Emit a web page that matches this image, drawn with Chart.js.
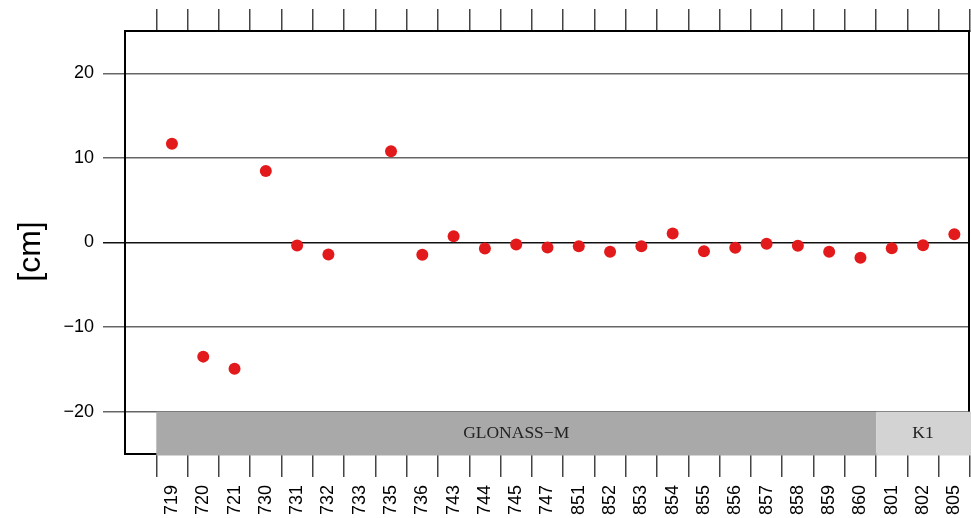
<!DOCTYPE html>
<html><head><meta charset="utf-8">
<script src="https://cdn.jsdelivr.net/npm/chart.js@4"></script>
<style>html,body{margin:0;padding:0;background:#fff}canvas{display:block}</style>
</head><body>
<canvas id="c" width="971" height="518"></canvas>
<script>
const categories = ['719','720','721','730','731','732','733','735','736','743','744','745','747','851','852','853','854','855','856','857','858','859','860','801','802','805'];
const offsets = [11.66,-13.49,-14.91,8.46,-0.36,-1.42,null,10.79,-1.46,0.75,-0.71,-0.24,-0.59,-0.43,-1.10,-0.43,1.07,-1.03,-0.63,-0.16,-0.39,-1.10,-1.81,-0.67,-0.32,0.98];
const yTicks = [-20,-10,0,10,20];
const groupNames = ['GLONASS\u2212M','K1'];
const groupFirst = ['719','801'];
const groupLast = ['860','805'];
const yTitle = '[cm]';
const yMin = -25, yMax = 25, bandTop = -20;

const sansFont = "'Liberation Sans', Arial, Helvetica, sans-serif";
const bandColors = ['#a9a9a9', '#d3d3d3'];

// let the plot area reach the canvas edge (points are far from the edges)
const ScatterCtl = (Chart.controllers && Chart.controllers.scatter) || Chart.registry.getController('scatter');
if (ScatterCtl) ScatterCtl.prototype.getMaxOverflow = function () { return 0; };

const catTicks = (s) => { s.ticks = categories.map((_, i) => ({ value: i })); };

const bandPlugin = {
  id: 'bands',
  beforeDatasetsDraw(chart) {
    const { ctx, chartArea, scales } = chart;
    const x = scales.x, y = scales.y;
    ctx.save();
    ctx.strokeStyle = '#000';
    ctx.lineWidth = 2;
    ctx.beginPath();
    ctx.moveTo(chartArea.right - 1, chartArea.top);
    ctx.lineTo(chartArea.right - 1, chartArea.bottom);
    ctx.stroke();
    const yt = y.getPixelForValue(bandTop), yb = y.getPixelForValue(yMin);
    groupNames.forEach((name, g) => {
      const i0 = categories.indexOf(groupFirst[g]);
      const i1 = categories.indexOf(groupLast[g]);
      const x0 = x.getPixelForValue(i0 - 0.5);
      const x1 = x.getPixelForValue(i1 + 0.5);
      ctx.fillStyle = bandColors[g];
      ctx.fillRect(x0, yt, x1 - x0 + (g === groupNames.length - 1 ? 2 : 0), yb - yt + 1.5);
      ctx.fillStyle = '#222';
      ctx.font = "17.5px 'Liberation Serif', 'Times New Roman', serif";
      ctx.textAlign = 'center';
      ctx.textBaseline = 'middle';
      ctx.fillText(name, (x0 + x1) / 2, (yt + yb) / 2 + 1);
    });
    // y axis title
    ctx.translate(y.left + 31, (chartArea.top + chartArea.bottom) / 2 + 9);
    ctx.rotate(-Math.PI / 2);
    ctx.fillStyle = '#000';
    ctx.font = "32px " + sansFont;
    ctx.textAlign = 'center';
    ctx.textBaseline = 'middle';
    ctx.fillText(yTitle, 0, 0);
    ctx.restore();
  }
};

new Chart(document.getElementById('c'), {
  type: 'scatter',
  data: {
    datasets: [{
      data: categories.map((c, i) => ({ x: i, y: offsets[i] })),
      xAxisID: 'x',
      yAxisID: 'y',
      backgroundColor: '#e31a1c',
      borderWidth: 0,
      pointRadius: 6,
      pointHoverRadius: 6,
      showLine: false
    }]
  },
  options: {
    responsive: false,
    animation: false,
    devicePixelRatio: 1,
    layout: { padding: { left: 0, right: 1, top: 1, bottom: 0 } },
    plugins: { legend: { display: false }, tooltip: { enabled: false } },
    scales: {
      x: {
        type: 'linear', position: 'bottom', min: -1.5, max: 25.5,
        afterBuildTicks: catTicks,
        afterFit: (s) => { s.height = 64; s.paddingLeft = 0; s.paddingRight = 0; },
        ticks: {
          autoSkip: false, minRotation: 90, maxRotation: 90, padding: 8,
          color: '#000', font: { family: sansFont, size: 18 },
          callback: (v) => categories[v] ?? ''
        },
        grid: { offset: true, drawOnChartArea: false, tickLength: 23, color: '#444', lineWidth: 1.5 },
        border: { color: '#000', width: 2 }
      },
      xTop: {
        type: 'linear', position: 'top', min: -1.5, max: 25.5,
        afterBuildTicks: catTicks,
        afterFit: (s) => { s.height = 30; s.paddingLeft = 0; s.paddingRight = 0; },
        ticks: { display: false },
        grid: { offset: true, drawOnChartArea: false, tickLength: 22, color: '#444', lineWidth: 1.5 },
        border: { color: '#000', width: 2 }
      },
      y: {
        type: 'linear', position: 'left', min: yMin, max: yMax,
        afterBuildTicks: (s) => { s.ticks = yTicks.map(v => ({ value: v })); },
        afterFit: (s) => { s.width = 125; },
        ticks: {
          padding: 9, color: '#000', font: { family: sansFont, size: 18 },
          callback: (v) => v < 0 ? '\u2212' + Math.abs(v) : String(v)
        },
        grid: {
          tickLength: 22,
          color: (ctx) => ctx.tick && ctx.tick.value === 0 ? '#111' : '#666',
          lineWidth: 1.5
        },
        border: { color: '#000', width: 2 },
        title: { display: false }
      }
    }
  },
  plugins: [bandPlugin]
});
</script>
</body></html>
